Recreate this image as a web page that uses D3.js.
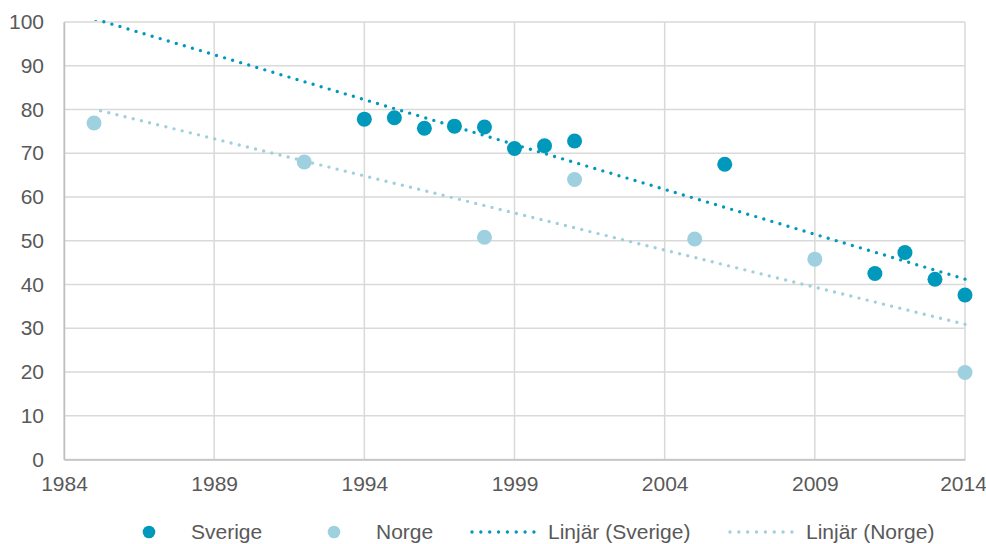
<!DOCTYPE html>
<html>
<head>
<meta charset="utf-8">
<script src="https://cdn.jsdelivr.net/npm/d3@7"></script>
<style>
  html, body { margin: 0; padding: 0; background: #fff; }
  svg text { font-family: "Liberation Sans", Arial, sans-serif; fill: #595959; }
</style>
</head>
<body>
<div id="chart"></div>
<script>
const sverigeYears = [1994, 1995, 1996, 1997, 1998, 1999, 2000, 2001, 2006, 2011, 2012, 2013, 2014];
const sverigeValues = [77.8, 78.1, 75.7, 76.2, 76.0, 71.1, 71.7, 72.8, 67.5, 42.5, 47.3, 41.2, 37.6];
const norgeYears = [1985, 1992, 1998, 2001, 2005, 2009, 2014];
const norgeValues = [76.9, 68.0, 50.8, 64.0, 50.4, 45.8, 19.9];
const xTicks = [1984, 1989, 1994, 1999, 2004, 2009, 2014];
const yTicks = [0, 10, 20, 30, 40, 50, 60, 70, 80, 90, 100];
const trendRange = [1985, 2014];

const legendItems = [
    { label: 'Sverige', type: 'dot', color: '#0099bb', x: 149 },
    { label: 'Norge', type: 'dot', color: '#9fd0e0', x: 334 },
    { label: 'Linjär (Sverige)', type: 'line', color: '#0099bb', x: 472 },
    { label: 'Linjär (Norge)', type: 'line', color: '#9fd0e0', x: 730 }
];

const width = 986, height = 544;
const margin = { top: 22, right: 21, bottom: 84.5, left: 64 };
const fontSize = '21px';

const svg = d3.select('#chart').append('svg')
    .attr('width', width)
    .attr('height', height);

const x = d3.scaleLinear().domain([1984, 2014]).range([margin.left, width - margin.right]);
const y = d3.scaleLinear().domain([0, 100]).range([height - margin.bottom, margin.top]);

// grid
svg.append('g')
    .selectAll('line.h')
    .data(yTicks)
    .join('line')
    .attr('x1', margin.left).attr('x2', width - margin.right)
    .attr('y1', d => y(d)).attr('y2', d => y(d))
    .attr('stroke', '#d9d9d9').attr('stroke-width', 1.5);

svg.append('g')
    .selectAll('line.v')
    .data(xTicks)
    .join('line')
    .attr('x1', d => x(d)).attr('x2', d => x(d))
    .attr('y1', margin.top).attr('y2', y(0))
    .attr('stroke', '#d9d9d9').attr('stroke-width', 1.5);

// axes
const xAxis = svg.append('g')
    .attr('transform', `translate(0,${y(0)})`)
    .call(d3.axisBottom(x).tickValues(xTicks).tickFormat(d3.format('d')).tickSize(0).tickPadding(17));
const yAxis = svg.append('g')
    .attr('transform', `translate(${margin.left},0)`)
    .call(d3.axisLeft(y).tickValues(yTicks).tickSize(0).tickPadding(20));

[xAxis, yAxis].forEach(a => {
    a.attr('font-family', null);
    a.select('.domain').attr('stroke', '#bfbfbf').attr('stroke-width', 1.5);
    a.selectAll('text').style('font-size', fontSize).attr('fill', '#595959');
});
// last year label sits right at the edge
xAxis.selectAll('.tick text').filter(d => d === 2014).attr('dx', -2);

// linear regression
function linreg(xs, ys) {
    const mx = d3.mean(xs), my = d3.mean(ys);
    let sxy = 0, sxx = 0;
    xs.forEach((v, i) => { sxy += (v - mx) * (ys[i] - my); sxx += (v - mx) ** 2; });
    const slope = sxy / sxx;
    return t => my + slope * (t - mx);
}

svg.append('clipPath').attr('id', 'plot-clip')
    .append('rect')
    .attr('x', margin.left).attr('y', margin.top - 2)
    .attr('width', width - margin.left - margin.right + 4)
    .attr('height', y(0) - margin.top + 2);

const sverige = sverigeYears.map((d, i) => ({ year: d, value: sverigeValues[i] }));
const norge = norgeYears.map((d, i) => ({ year: d, value: norgeValues[i] }));

function drawPoints(data, color) {
    svg.append('g')
        .selectAll('circle')
        .data(data)
        .join('circle')
        .attr('cx', d => x(d.year))
        .attr('cy', d => y(d.value))
        .attr('r', 7.5)
        .attr('fill', color);
}

function drawTrend(data, color) {
    const f = linreg(data.map(d => d.year), data.map(d => d.value));
    // start at the right end so the dots line up with the last one
    const pts = [trendRange[1], trendRange[0]].map(t => [x(t), y(f(t))]);
    svg.append('path')
        .attr('clip-path', 'url(#plot-clip)')
        .attr('d', d3.line()(pts))
        .attr('fill', 'none')
        .attr('stroke', color)
        .attr('stroke-width', 3.4)
        .attr('stroke-linecap', 'round')
        .attr('stroke-dasharray', '0 8.4');
}

drawPoints(norge, '#9fd0e0');
drawPoints(sverige, '#0099bb');
drawTrend(norge, '#9fd0e0');
drawTrend(sverige, '#0099bb');

// legend
const legendY = 532;
const legend = svg.append('g');
legendItems.forEach(item => {
    const g = legend.append('g').attr('transform', `translate(${item.x},${legendY})`);
    let textX;
    if (item.type === 'dot') {
        g.append('circle').attr('r', 6.3).attr('fill', item.color);
        textX = 42;
    } else {
        g.append('line')
            .attr('x1', 0).attr('x2', 62)
            .attr('stroke', item.color)
            .attr('stroke-width', 3.4)
            .attr('stroke-linecap', 'round')
            .attr('stroke-dasharray', '0 8.85');
        textX = 76;
    }
    g.append('text')
        .attr('x', textX)
        .attr('dy', '0.35em')
        .style('font-size', fontSize)
        .text(item.label);
});
</script>
</body>
</html>
